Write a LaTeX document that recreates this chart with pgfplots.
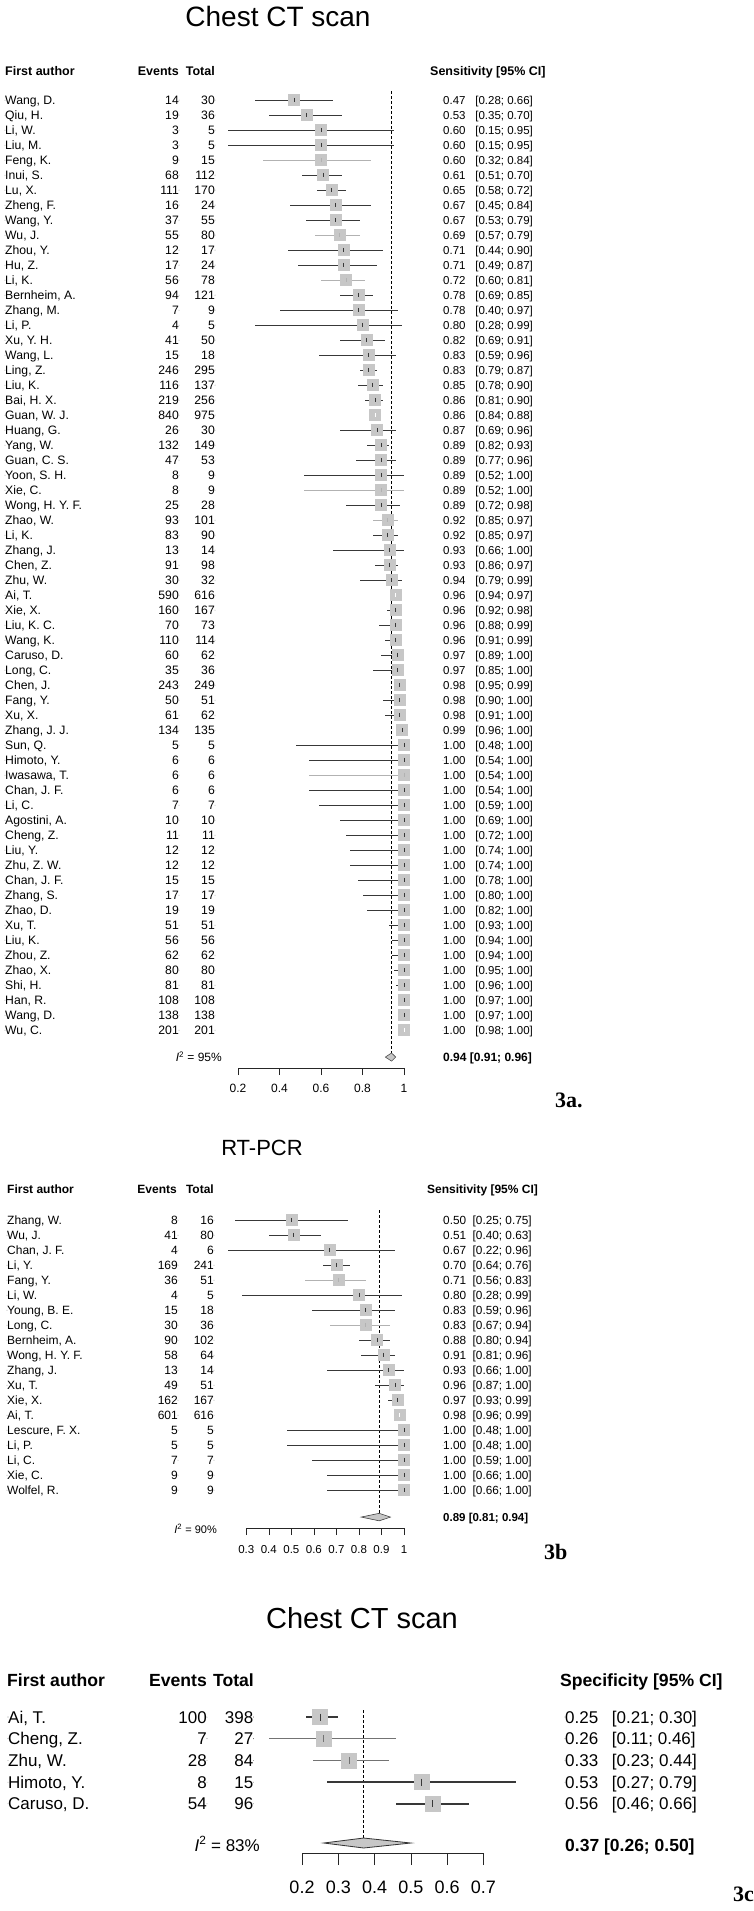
\documentclass[border=0pt]{standalone}
\usepackage{fontspec}
\setmainfont{Liberation Sans}
\newfontfamily\labfont{Liberation Serif}
\usepackage{pgfplots}
\usepackage{pgfplotstable}
\pgfplotsset{compat=1.18}
\newcommand{\fs}[1]{\fontsize{#1}{#1}\selectfont}
\definecolor{ci}{gray}{0.22}
\definecolor{cilight}{gray}{0.70}
\definecolor{cimed}{gray}{0.45}
\definecolor{sq}{gray}{0.78}

% Chest CT scan: sensitivity
\pgfplotstableread{
row name ev tot est lo hi c
1 {Wang, D.} 14 30 0.47 0.28 0.66 0
2 {Qiu, H.} 19 36 0.53 0.35 0.70 0
3 {Li, W.} 3 5 0.60 0.15 0.95 0
4 {Liu, M.} 3 5 0.60 0.15 0.95 0
5 {Feng, K.} 9 15 0.60 0.32 0.84 1
6 {Inui, S.} 68 112 0.61 0.51 0.70 0
7 {Lu, X.} 111 170 0.65 0.58 0.72 0
8 {Zheng, F.} 16 24 0.67 0.45 0.84 0
9 {Wang, Y.} 37 55 0.67 0.53 0.79 0
10 {Wu, J.} 55 80 0.69 0.57 0.79 1
11 {Zhou, Y.} 12 17 0.71 0.44 0.90 0
12 {Hu, Z.} 17 24 0.71 0.49 0.87 0
13 {Li, K.} 56 78 0.72 0.60 0.81 1
14 {Bernheim, A.} 94 121 0.78 0.69 0.85 0
15 {Zhang, M.} 7 9 0.78 0.40 0.97 0
16 {Li, P.} 4 5 0.80 0.28 0.99 0
17 {Xu, Y. H.} 41 50 0.82 0.69 0.91 0
18 {Wang, L.} 15 18 0.83 0.59 0.96 0
19 {Ling, Z.} 246 295 0.83 0.79 0.87 0
20 {Liu, K.} 116 137 0.85 0.78 0.90 0
21 {Bai, H. X.} 219 256 0.86 0.81 0.90 0
22 {Guan, W. J.} 840 975 0.86 0.84 0.88 2
23 {Huang, G.} 26 30 0.87 0.69 0.96 0
24 {Yang, W.} 132 149 0.89 0.82 0.93 0
25 {Guan, C. S.} 47 53 0.89 0.77 0.96 0
26 {Yoon, S. H.} 8 9 0.89 0.52 1.00 0
27 {Xie, C.} 8 9 0.89 0.52 1.00 1
28 {Wong, H. Y. F.} 25 28 0.89 0.72 0.98 0
29 {Zhao, W.} 93 101 0.92 0.85 0.97 1
30 {Li, K.} 83 90 0.92 0.85 0.97 0
31 {Zhang, J.} 13 14 0.93 0.66 1.00 0
32 {Chen, Z.} 91 98 0.93 0.86 0.97 0
33 {Zhu, W.} 30 32 0.94 0.79 0.99 0
34 {Ai, T.} 590 616 0.96 0.94 0.97 2
35 {Xie, X.} 160 167 0.96 0.92 0.98 0
36 {Liu, K. C.} 70 73 0.96 0.88 0.99 0
37 {Wang, K.} 110 114 0.96 0.91 0.99 0
38 {Caruso, D.} 60 62 0.97 0.89 1.00 0
39 {Long, C.} 35 36 0.97 0.85 1.00 0
40 {Chen, J.} 243 249 0.98 0.95 0.99 0
41 {Fang, Y.} 50 51 0.98 0.90 1.00 0
42 {Xu, X.} 61 62 0.98 0.91 1.00 0
43 {Zhang, J. J.} 134 135 0.99 0.96 1.00 0
44 {Sun, Q.} 5 5 1.00 0.48 1.00 0
45 {Himoto, Y.} 6 6 1.00 0.54 1.00 0
46 {Iwasawa, T.} 6 6 1.00 0.54 1.00 1
47 {Chan, J. F.} 6 6 1.00 0.54 1.00 0
48 {Li, C.} 7 7 1.00 0.59 1.00 0
49 {Agostini, A.} 10 10 1.00 0.69 1.00 0
50 {Cheng, Z.} 11 11 1.00 0.72 1.00 0
51 {Liu, Y.} 12 12 1.00 0.74 1.00 0
52 {Zhu, Z. W.} 12 12 1.00 0.74 1.00 0
53 {Chan, J. F.} 15 15 1.00 0.78 1.00 0
54 {Zhang, S.} 17 17 1.00 0.80 1.00 0
55 {Zhao, D.} 19 19 1.00 0.82 1.00 0
56 {Xu, T.} 51 51 1.00 0.93 1.00 0
57 {Liu, K.} 56 56 1.00 0.94 1.00 0
58 {Zhou, Z.} 62 62 1.00 0.94 1.00 0
59 {Zhao, X.} 80 80 1.00 0.95 1.00 0
60 {Shi, H.} 81 81 1.00 0.96 1.00 0
61 {Han, R.} 108 108 1.00 0.97 1.00 0
62 {Wang, D.} 138 138 1.00 0.97 1.00 0
63 {Wu, C.} 201 201 1.00 0.98 1.00 2
}\tabA

% RT-PCR: sensitivity
\pgfplotstableread{
row name ev tot est lo hi c
1 {Zhang, W.} 8 16 0.50 0.25 0.75 0
2 {Wu, J.} 41 80 0.51 0.40 0.63 0
3 {Chan, J. F.} 4 6 0.67 0.22 0.96 0
4 {Li, Y.} 169 241 0.70 0.64 0.76 0
5 {Fang, Y.} 36 51 0.71 0.56 0.83 1
6 {Li, W.} 4 5 0.80 0.28 0.99 0
7 {Young, B. E.} 15 18 0.83 0.59 0.96 0
8 {Long, C.} 30 36 0.83 0.67 0.94 1
9 {Bernheim, A.} 90 102 0.88 0.80 0.94 0
10 {Wong, H. Y. F.} 58 64 0.91 0.81 0.96 0
11 {Zhang, J.} 13 14 0.93 0.66 1.00 0
12 {Xu, T.} 49 51 0.96 0.87 1.00 0
13 {Xie, X.} 162 167 0.97 0.93 0.99 0
14 {Ai, T.} 601 616 0.98 0.96 0.99 2
15 {Lescure, F. X.} 5 5 1.00 0.48 1.00 0
16 {Li, P.} 5 5 1.00 0.48 1.00 0
17 {Li, C.} 7 7 1.00 0.59 1.00 0
18 {Xie, C.} 9 9 1.00 0.66 1.00 0
19 {Wolfel, R.} 9 9 1.00 0.66 1.00 0
}\tabB

% Chest CT scan: specificity
\pgfplotstableread{
row name ev tot est lo hi c
1 {Ai, T.} 100 398 0.25 0.21 0.30 0
2 {Cheng, Z.} 7 27 0.26 0.11 0.46 1
3 {Zhu, W.} 28 84 0.33 0.23 0.44 1
4 {Himoto, Y.} 8 15 0.53 0.27 0.79 0
5 {Caruso, D.} 54 96 0.56 0.46 0.66 0
}\tabC

\pgfplotsset{
  forest/.style={
    anchor=south west, clip=false,
    axis x line=bottom, axis y line=none,
    axis line style={-, draw=black!85, line width=0.6pt},
    xtick pos=left, tick align=outside,
    tick style={draw=black!85, line width=0.6pt},
    ytick=\empty,
    /pgf/number format/assume math mode=true,
  },
  sqs/.style={only marks, mark=square*, mark size=#1, color=sq, mark options={draw=none, fill=sq}},
  cis/.style n args={4}{only marks, mark=|, mark size=#2, color=#1,
    mark options={line width=#4, draw=#1},
    /pgfplots/error bars/x dir=both, /pgfplots/error bars/x explicit,
    /pgfplots/error bars/error mark=none,
    /pgfplots/error bars/error bar style={line width=#3, draw=#1}},
  txt/.style n args={3}{only marks, mark=*, mark size=0.01pt,
    mark options={draw=none, fill=none}, nodes near coords,
    point meta=explicit symbolic,
    every node near coord/.append style={inner sep=0pt, anchor=#1, yshift=#2, text=black, font=#3}},
  cilab/.style={
    visualization depends on={\thisrow{lo}\as\lov},
    visualization depends on={\thisrow{hi}\as\hiv},
    nodes near coords={\pgfplotspointmeta\hspace{#1}[\pgfmathprintnumber[fixed,zerofill,precision=2]{\lov}; \pgfmathprintnumber[fixed,zerofill,precision=2]{\hiv}]}},
}

\begin{document}
\begin{tikzpicture}
\useasboundingbox (0pt,0pt) rectangle (754pt,-1911pt);

% ---------------- 3a ----------------
\node[anchor=base, font=\fs{28}] at (278pt,-27pt) {Chest CT scan};
\node[anchor=base west, inner sep=0pt, font=\fs{12.5}\bfseries] at (5pt,-75.5pt) {First author};
\node[anchor=base east, inner sep=0pt, font=\fs{12.5}\bfseries] at (179pt,-75.5pt) {Events};
\node[anchor=base east, inner sep=0pt, font=\fs{12.5}\bfseries] at (215pt,-75.5pt) {Total};
\node[anchor=base west, inner sep=0pt, font=\fs{12.5}\bfseries] at (430pt,-75.5pt) {Sensitivity [95\% CI]};
\node[anchor=base east, inner sep=0pt, font=\fs{12}] at (222pt,-1061.4pt) {\textit{I}\textsuperscript{2} = 95\%};
\node[anchor=base west, inner sep=0pt, font=\fs{12}\bfseries] at (443pt,-1061.4pt) {0.94 [0.91; 0.96]};
\node[anchor=base west, inner sep=0pt, font=\fs{22}\labfont\bfseries] at (555pt,-1107pt) {3a.};

\begin{axis}[forest, at={(238pt,-1068pt)}, x=207.5pt, y=15pt,
  xmin=0.2, xmax=1, ymin=-65.53, ymax=0,
  xtick={0.2,0.4,0.6,0.8,1}, major tick length=7pt,
  xticklabel style={font=\fs{12}, yshift=-6pt}]
\addplot[densely dashed, line width=0.5pt, black] coordinates {(0.94,-0.4) (0.94,-64.53)};
\addplot[sqs=5.5pt] table[x=est, y expr=-\thisrow{row}]{\tabA};
\addplot[cis={ci}{2.2pt}{1.1pt}{0.8pt}, restrict expr to domain={\thisrow{c}}{0:0}] table[x=est, y expr=-\thisrow{row}, x error plus expr=\thisrow{hi}-\thisrow{est}, x error minus expr=\thisrow{est}-\thisrow{lo}]{\tabA};
\addplot[cis={cilight}{2.2pt}{1.1pt}{0.8pt}, restrict expr to domain={\thisrow{c}}{1:1}] table[x=est, y expr=-\thisrow{row}, x error plus expr=\thisrow{hi}-\thisrow{est}, x error minus expr=\thisrow{est}-\thisrow{lo}]{\tabA};
\addplot[cis={white}{2.2pt}{1.1pt}{0.8pt}, restrict expr to domain={\thisrow{c}}{2:2}] table[x=est, y expr=-\thisrow{row}, x error plus expr=\thisrow{hi}-\thisrow{est}, x error minus expr=\thisrow{est}-\thisrow{lo}]{\tabA};
\addplot[fill=sq, draw=black!70, line width=0.6pt] coordinates {(0.91,-64.8) (0.94,-64.53) (0.96,-64.8) (0.94,-65.07)} --cycle;
\addplot[txt={base west}{-4.4pt}{\fs{12.2}}] table[x expr=-0.9229, y expr=-\thisrow{row}, meta=name]{\tabA};
\addplot[txt={base east}{-4.4pt}{\fs{12.2}}] table[x expr=-0.0843, y expr=-\thisrow{row}, meta=ev]{\tabA};
\addplot[txt={base east}{-4.4pt}{\fs{12.2}}] table[x expr=0.0892, y expr=-\thisrow{row}, meta=tot]{\tabA};
\addplot[txt={base west}{-4.2pt}{\fs{11.5}}, cilab=0.85em]
  table[x expr=1.188, y expr=-\thisrow{row}, meta=est]{\tabA};
\end{axis}

% ---------------- 3b ----------------
\node[anchor=base, font=\fs{22}] at (262pt,-1155pt) {RT-PCR};
\node[anchor=base west, inner sep=0pt, font=\fs{12}\bfseries] at (7pt,-1193.4pt) {First author};
\node[anchor=base east, inner sep=0pt, font=\fs{12}\bfseries] at (177pt,-1193.4pt) {Events};
\node[anchor=base east, inner sep=0pt, font=\fs{12}\bfseries] at (214pt,-1193.4pt) {Total};
\node[anchor=base west, inner sep=0pt, font=\fs{12}\bfseries] at (427pt,-1193.4pt) {Sensitivity [95\% CI]};
\node[anchor=base east, inner sep=0pt, font=\fs{11}] at (217pt,-1533pt) {\textit{I}\textsuperscript{2} = 90\%};
\node[anchor=base west, inner sep=0pt, font=\fs{11.5}\bfseries] at (443pt,-1521.3pt) {0.89 [0.81; 0.94]};
\node[anchor=base west, inner sep=0pt, font=\fs{22}\labfont\bfseries] at (544pt,-1559pt) {3b};

\begin{axis}[forest, at={(246.3pt,-1528pt)}, x=225.3pt, y=15pt,
  xmin=0.3, xmax=1, ymin=-21.53, ymax=0,
  xtick={0.3,0.4,0.5,0.6,0.7,0.8,0.9,1}, major tick length=7pt,
  xticklabel style={font=\fs{11.5}, yshift=-7pt}]
\addplot[densely dashed, line width=0.5pt, black] coordinates {(0.89,-0.33) (0.89,-20.55)};
\addplot[sqs=5.5pt] table[x=est, y expr=-\thisrow{row}]{\tabB};
\addplot[cis={ci}{2.2pt}{1.1pt}{0.8pt}, restrict expr to domain={\thisrow{c}}{0:0}] table[x=est, y expr=-\thisrow{row}, x error plus expr=\thisrow{hi}-\thisrow{est}, x error minus expr=\thisrow{est}-\thisrow{lo}]{\tabB};
\addplot[cis={cilight}{2.2pt}{1.1pt}{0.8pt}, restrict expr to domain={\thisrow{c}}{1:1}] table[x=est, y expr=-\thisrow{row}, x error plus expr=\thisrow{hi}-\thisrow{est}, x error minus expr=\thisrow{est}-\thisrow{lo}]{\tabB};
\addplot[cis={white}{2.2pt}{1.1pt}{0.8pt}, restrict expr to domain={\thisrow{c}}{2:2}] table[x=est, y expr=-\thisrow{row}, x error plus expr=\thisrow{hi}-\thisrow{est}, x error minus expr=\thisrow{est}-\thisrow{lo}]{\tabB};
\addplot[fill=sq, draw=black!75, line width=0.6pt] coordinates {(0.81,-20.8) (0.89,-20.55) (0.94,-20.8) (0.89,-21.05)} --cycle;
\addplot[txt={base west}{-4.3pt}{\fs{12}}] table[x expr=-0.7621, y expr=-\thisrow{row}, meta=name]{\tabB};
\addplot[txt={base east}{-4.3pt}{\fs{12}}] table[x expr=-0.0031, y expr=-\thisrow{row}, meta=ev]{\tabB};
\addplot[txt={base east}{-4.3pt}{\fs{12}}] table[x expr=0.1566, y expr=-\thisrow{row}, meta=tot]{\tabB};
\addplot[txt={base west}{-4.2pt}{\fs{11.8}}, cilab=0.55em]
  table[x expr=1.1731, y expr=-\thisrow{row}, meta=est]{\tabB};
\end{axis}

% ---------------- 3c ----------------
\node[anchor=base, font=\fs{29}] at (362pt,-1628.4pt) {Chest CT scan};
\node[anchor=base west, inner sep=0pt, font=\fs{17.6}\bfseries] at (7pt,-1686.3pt) {First author};
\node[anchor=base east, inner sep=0pt, font=\fs{17.6}\bfseries] at (207pt,-1686.3pt) {Events};
\node[anchor=base east, inner sep=0pt, font=\fs{17.6}\bfseries] at (254pt,-1686.3pt) {Total};
\node[anchor=base west, inner sep=0pt, font=\fs{17.6}\bfseries] at (560pt,-1686.3pt) {Specificity [95\% CI]};
\node[anchor=base east, inner sep=0pt, font=\fs{17}] at (260pt,-1851pt) {\textit{I}\textsuperscript{2} = 83\%};
\node[anchor=base west, inner sep=0pt, font=\fs{17.5}\bfseries] at (565pt,-1851.5pt) {0.37 [0.26; 0.50]};
\node[anchor=base west, inner sep=0pt, font=\fs{22}\labfont\bfseries] at (733pt,-1901pt) {3c};

\begin{axis}[forest, at={(302pt,-1853pt)}, x=362.8pt, y=21.7pt,
  xmin=0.2, xmax=0.7, ymin=-7.267, ymax=0,
  xtick={0.2,0.3,0.4,0.5,0.6,0.7}, major tick length=12pt,
  xticklabel style={font=\fs{18}, yshift=-12.6pt}]
\addplot[densely dashed, line width=0.6pt, black] coordinates {(0.37,-0.68) (0.37,-6.576)};
\addplot[sqs=7.5pt] table[x=est, y expr=-\thisrow{row}]{\tabC};
\addplot[cis={ci}{3.5pt}{1.5pt}{0.9pt}, restrict expr to domain={\thisrow{c}}{0:0}] table[x=est, y expr=-\thisrow{row}, x error plus expr=\thisrow{hi}-\thisrow{est}, x error minus expr=\thisrow{est}-\thisrow{lo}]{\tabC};
\addplot[cis={cimed}{3.5pt}{1.5pt}{0.9pt}, restrict expr to domain={\thisrow{c}}{1:1}] table[x=est, y expr=-\thisrow{row}, x error plus expr=\thisrow{hi}-\thisrow{est}, x error minus expr=\thisrow{est}-\thisrow{lo}]{\tabC};
\addplot[fill=sq, draw=black!80, line width=0.8pt] coordinates {(0.26,-6.806) (0.37,-6.576) (0.50,-6.806) (0.37,-7.036)} --cycle;
\addplot[txt={base west}{-6.1pt}{\fs{17}}] table[x expr=-0.6104, y expr=-\thisrow{row}, meta=name]{\tabC};
\addplot[txt={base east}{-6.1pt}{\fs{17}}] table[x expr=-0.0619, y expr=-\thisrow{row}, meta=ev]{\tabC};
\addplot[txt={base east}{-6.1pt}{\fs{17}}] table[x expr=0.0663, y expr=-\thisrow{row}, meta=tot]{\tabC};
\addplot[txt={base west}{-6.1pt}{\fs{17}}, cilab=0.8em]
  table[x expr=0.9249, y expr=-\thisrow{row}, meta=est]{\tabC};
\end{axis}
\end{tikzpicture}
\end{document}
